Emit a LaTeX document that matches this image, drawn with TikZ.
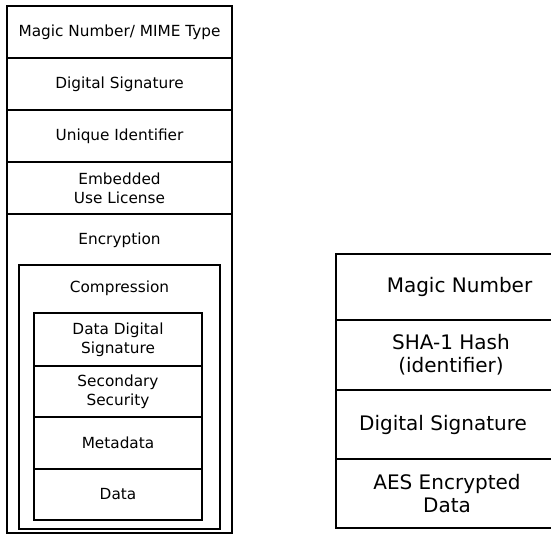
\documentclass[tikz,border=0pt]{standalone}
\usepackage{fontspec}
\setmainfont{DejaVu Sans}
\usetikzlibrary{positioning,calc}
\tikzset{
  rowbox/.style={rectangle, draw=black, line width=2.2pt, align=center,
                 font=\fontsize{15.3}{19}\selectfont, inner sep=0pt},
  bigbox/.style={rectangle, draw=black, line width=2.2pt, inner sep=0pt},
  biglbl/.style={align=center, font=\fontsize{20}{23}\selectfont, inner sep=0pt},
  smalllbl/.style={align=center, font=\fontsize{15.3}{19}\selectfont, inner sep=0pt},
}
\begin{document}
\begin{tikzpicture}[x=1pt, y=-1pt]
\useasboundingbox (0,0) rectangle (551,536);
\node[rowbox, minimum width=225pt, minimum height=52pt] (magic) at (119.5,32) {Magic Number/ MIME Type};
\node[rowbox, minimum width=225pt, minimum height=52pt] (dsig) at (119.5,84) {Digital Signature};
\node[rowbox, minimum width=225pt, minimum height=52pt] (uid) at (119.5,136) {Unique Identifier};
\node[rowbox, minimum width=225pt, minimum height=52pt] (lic) at (119.5,188) {Embedded\\Use License};
\node[bigbox, minimum width=225pt, minimum height=319pt] (enc) at (119.5,373.5) {};
\node[smalllbl] (enclbl) at (119.5,240) {Encryption};
\node[bigbox, minimum width=201pt, minimum height=264pt] (comp) at (119.5,397) {};
\node[smalllbl] (complbl) at (119.5,288) {Compression};
\node[rowbox, minimum width=168pt, minimum height=53pt] (ddsig) at (118,339.5) {Data Digital\\Signature};
\node[rowbox, minimum width=168pt, minimum height=51pt] (sec) at (118,391.5) {Secondary\\Security};
\node[rowbox, minimum width=168pt, minimum height=52pt] (meta) at (118,443) {Metadata};
\node[rowbox, minimum width=168pt, minimum height=51pt] (data) at (118,494.5) {Data};
\node[bigbox, minimum width=226pt, minimum height=66pt] (rmagic) at (449,287) {};
\node[bigbox, minimum width=226pt, minimum height=70pt] (rsha) at (449,355) {};
\node[bigbox, minimum width=226pt, minimum height=69pt] (rsig) at (449,424.5) {};
\node[bigbox, minimum width=226pt, minimum height=69pt] (raes) at (449,493.5) {};
\node[biglbl] (rmagiclbl) at ($(rmagic.center)+(10.5,0)$) {Magic Number};
\node[biglbl] (rshalbl) at ($(rsha.center)+(2,0)$) {SHA-1 Hash\\(identifier)};
\node[biglbl] (rsiglbl) at ($(rsig.center)+(-6,0)$) {Digital Signature};
\node[biglbl] (raeslbl) at ($(raes.center)+(-2,0)$) {AES Encrypted\\Data};
\end{tikzpicture}
\end{document}
